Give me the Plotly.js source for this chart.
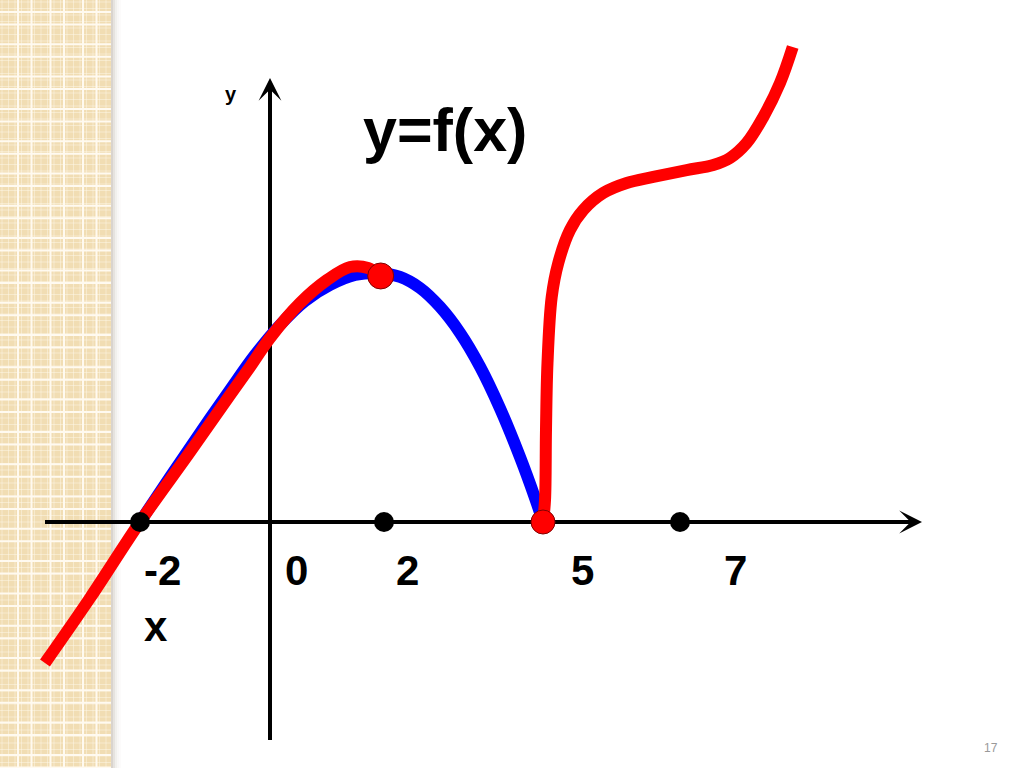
<!DOCTYPE html>
<html>
<head>
<meta charset="utf-8">
<script src="https://cdn.plot.ly/plotly-3.0.1.min.js"></script>
<style>html,body{margin:0;padding:0;background:#fff;}#chart{width:1024px;height:768px;}</style>
</head>
<body>
<div id="chart"></div>
<script>
// ---- data (chart units) ----
const blueX = [-2.0, -1.538, -1.077, -0.615, -0.231, 0.154, 0.538, 0.923, 1.308, 1.692, 2.0, 2.308, 2.615, 2.923, 3.231, 3.538, 3.846, 4.077, 4.2];
const blueY = [0, 0.692, 1.369, 2.031, 2.569, 3.031, 3.400, 3.646, 3.800, 3.83, 3.77, 3.60, 3.31, 2.91, 2.39, 1.75, 1.00, 0.37, 0];

const redLeftX = [-3.462, -2.769, -2.0, -1.231, -0.615, -0.308, 0, 0.462, 0.877, 1.231, 1.508, 1.692];
const redLeftY = [-2.169, -1.169, 0, 1.077, 1.954, 2.385, 2.831, 3.369, 3.723, 3.923, 3.908, 3.785];

const redRightX = [4.2, 4.231, 4.246, 4.269, 4.334, 4.435, 4.615, 4.820, 5.128, 5.488, 5.897, 6.411, 6.820, 7.077, 7.334, 7.589, 7.846, 8.042];
const redRightY = [0, 0.338, 1.415, 2.446, 3.462, 3.985, 4.492, 4.800, 5.062, 5.215, 5.308, 5.415, 5.492, 5.600, 5.831, 6.231, 6.754, 7.308];

const blackDotX = [-2.0, 1.754, 6.308];
const blackDotY = [0, 0, 0];
const redDotX = [1.703, 4.2];
const redDotY = [3.785, 0];

const tickLabels = ['-2', '0', '2', '5', '7'];
const titleText = 'y=f(x)';
const xAxisLabel = 'x';
const yAxisLabel = 'y';
const pageNumber = '17';

// ---- layout helpers ----
const W = 1024, H = 768;
const PX = 65;            // pixels per unit
const OX = 270, OY = 522; // origin in pixels
const xRange = [-OX / PX, (W - OX) / PX];
const yRange = [-(H - OY) / PX, OY / PX];
const tickPos = [-1.654, 0.415, 2.108, 4.815, 7.169];
const tickY = -0.74;

const shapes = [];
// left decorative strip
const stripW = 111;
shapes.push({type:'rect', xref:'paper', yref:'paper', x0:0, x1:stripW/W, y0:0, y1:1,
  fillcolor:'#f1ddb3', line:{width:0}, layer:'below'});
// faint inner lines
for (let p = 2; p < stripW; p += 6.5) {
  shapes.push({type:'line', xref:'paper', yref:'paper', x0:p/W, x1:p/W, y0:0, y1:1,
    line:{color:'rgba(255,250,238,0.45)', width:1}, layer:'below'});
}
for (let p = 2; p < H; p += 6.5) {
  shapes.push({type:'line', xref:'paper', yref:'paper', x0:0, x1:stripW/W, y0:1-p/H, y1:1-p/H,
    line:{color:'rgba(255,250,238,0.45)', width:1}, layer:'below'});
}
// main white grid lines
for (let k = 0; k < 5; k++) {
  [18, 31.5].forEach(o => {
    const p = o + 32.5 * k;
    if (p < stripW) shapes.push({type:'line', xref:'paper', yref:'paper', x0:p/W, x1:p/W, y0:0, y1:1,
      line:{color:'#fffaf0', width:2}, layer:'below'});
  });
}
for (let k = -1; k < 25; k++) {
  [12, 24.5].forEach(o => {
    const p = o + 32.3 * k;
    if (p > 0 && p < H) shapes.push({type:'line', xref:'paper', yref:'paper', x0:0, x1:stripW/W, y0:1-p/H, y1:1-p/H,
      line:{color:'#fffaf0', width:2}, layer:'below'});
  });
}
// shadow
const sh = [0.22, 0.14, 0.08, 0.04, 0.018];
sh.forEach((a, i) => {
  shapes.push({type:'rect', xref:'paper', yref:'paper', x0:(stripW + i*2)/W, x1:(stripW + i*2 + 2)/W, y0:0, y1:1,
    fillcolor:'rgba(80,60,30,' + a + ')', line:{width:0}, layer:'below'});
});
// axis lines
const xAxStart = (45 - OX) / PX, xAxEnd = (915 - OX) / PX;
const yAxStart = -(740 - OY) / PX, yAxEnd = (OY - 84) / PX;
shapes.push({type:'line', xref:'x', yref:'y', x0:xAxStart, x1:xAxEnd, y0:0, y1:0,
  line:{color:'#000', width:4}, layer:'below'});
shapes.push({type:'line', xref:'x', yref:'y', x0:0, x1:0, y0:yAxStart, y1:yAxEnd,
  line:{color:'#000', width:4}, layer:'below'});

const annotations = [];
// arrowheads
annotations.push({x:(922 - OX)/PX, y:0, ax:(900 - OX)/PX, ay:0, axref:'x', ayref:'y', xref:'x', yref:'y',
  text:'', showarrow:true, arrowhead:3, arrowsize:0.95, arrowwidth:4, arrowcolor:'#000', standoff:0});
annotations.push({x:0, y:(OY - 78)/PX, ax:0, ay:(OY - 100)/PX, axref:'x', ayref:'y', xref:'x', yref:'y',
  text:'', showarrow:true, arrowhead:3, arrowsize:0.95, arrowwidth:4, arrowcolor:'#000', standoff:0});

const lblFont = {family:'Liberation Sans, Arial, sans-serif', size:42, color:'#000', weight:'bold'};
tickLabels.forEach((t, i) => {
  annotations.push({x:tickPos[i], y:tickY, xref:'x', yref:'y', text:'<b>' + t + '</b>', showarrow:false,
    font:lblFont, xanchor:'center', yanchor:'middle'});
});
annotations.push({x:-1.754, y:-1.60, xref:'x', yref:'y', text:'<b>' + xAxisLabel + '</b>', showarrow:false,
  font:lblFont, xanchor:'center', yanchor:'middle'});
annotations.push({x:-0.60, y:6.58, xref:'x', yref:'y', text:'<b>' + yAxisLabel + '</b>', showarrow:false,
  font:{family:'Liberation Sans, Arial, sans-serif', size:20, color:'#000'}, xanchor:'center', yanchor:'middle'});
annotations.push({x:2.692, y:6.03, xref:'x', yref:'y', text:'<b>' + titleText + '</b>', showarrow:false,
  font:{family:'Liberation Sans, Arial, sans-serif', size:61, color:'#000'}, xanchor:'center', yanchor:'middle'});
annotations.push({x:991/W, y:1 - 748/H, xref:'paper', yref:'paper', text:pageNumber, showarrow:false,
  font:{family:'Liberation Sans, Arial, sans-serif', size:12, color:'#999'}, xanchor:'center', yanchor:'middle'});

const traces = [
  {x:blueX, y:blueY, mode:'lines', line:{color:'#0000ff', width:12, shape:'spline', smoothing:1}, hoverinfo:'skip'},
  {x:redLeftX, y:redLeftY, mode:'lines', line:{color:'#ff0000', width:12, shape:'spline', smoothing:1}, hoverinfo:'skip'},
  {x:redRightX, y:redRightY, mode:'lines', line:{color:'#ff0000', width:12, shape:'spline', smoothing:1}, hoverinfo:'skip'},
  {x:blackDotX, y:blackDotY, mode:'markers', marker:{color:'#000', size:20, opacity:1}, hoverinfo:'skip'},
  {x:redDotX, y:redDotY, mode:'markers', marker:{color:'#ff0000', size:[26, 24], opacity:1, line:{color:'#800000', width:1}}, hoverinfo:'skip'}
];

const layout = {
  width:W, height:H,
  margin:{l:0, r:0, t:0, b:0, pad:0},
  paper_bgcolor:'#fff', plot_bgcolor:'#fff',
  showlegend:false,
  xaxis:{range:xRange, visible:false, fixedrange:true},
  yaxis:{range:yRange, visible:false, fixedrange:true},
  shapes:shapes,
  annotations:annotations
};

Plotly.newPlot('chart', traces, layout, {staticPlot:true, displayModeBar:false});
</script>
</body>
</html>
